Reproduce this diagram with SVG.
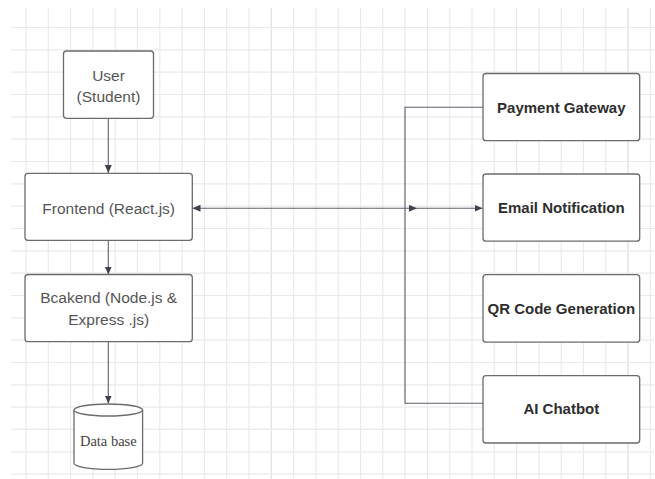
<svg xmlns="http://www.w3.org/2000/svg" width="655" height="479" viewBox="0 0 655 479">
  <style>
    .grid { stroke: #eaeaea; stroke-width: 1.2; fill: none; }
    .gridd { stroke: #e3e3e3; stroke-width: 1.4; fill: none; }
    .box { fill: #ffffff; stroke: #6b6b6b; stroke-width: 1.3; }
    .lt { font-family: "Liberation Sans", Arial, sans-serif; font-size: 15.5px; fill: #555555; text-anchor: middle; }
    .rt { font-family: "Liberation Sans", Arial, sans-serif; font-size: 15px; font-weight: bold; fill: #2e2e2e; text-anchor: middle; }
    .db { font-family: "Liberation Serif", "Times New Roman", serif; font-size: 14.5px; fill: #444444; text-anchor: middle; }
    .conn { stroke: #5e626b; stroke-width: 1.1; fill: none; }
  </style>
  <defs>
    <marker id="arr" markerUnits="userSpaceOnUse" markerWidth="9" markerHeight="8" refX="8" refY="3.5" orient="auto-start-reverse">
      <path d="M0,0 L8,3.5 L0,7 Z" fill="#3d424c"/>
    </marker>
  </defs>
  <rect width="655" height="479" fill="#ffffff"/>
  <g id="grid">
    <path class="grid" d="M26 8V479M48.3 8V479M70.6 8V479M92.9 8V479M115.2 8V479M137.5 8V479M159.8 8V479M182.1 8V479M204.4 8V479M226.7 8V479M249 8V479M293.6 8V479M315.9 8V479M338.2 8V479M360.5 8V479M382.8 8V479M405.1 8V479M427.4 8V479M449.7 8V479M472 8V479M494.3 8V479M516.6 8V479M538.9 8V479M561.2 8V479M583.5 8V479M605.8 8V479M650.4 8V479"/>
    <path class="gridd" d="M271.3 8V479M628.1 8V479"/>
    <path class="grid" d="M11 27.5H655M11 49.8H655M11 72.2H655M11 94.5H655M11 116.8H655M11 139.2H655M11 161.5H655M11 183.8H655M11 206.1H655M11 228.5H655M11 250.8H655M11 273.1H655M11 295.5H655M11 317.8H655M11 340.1H655M11 362.5H655M11 384.8H655M11 407.1H655M11 429.4H655M11 451.8H655M11 474.1H655"/>
  </g>
  <g id="connectors">
    <path class="conn" d="M108.3 118.5V173" marker-end="url(#arr)"/>
    <path class="conn" d="M108.3 240V274.5" marker-end="url(#arr)"/>
    <path class="conn" d="M108.3 341.7V403.5" marker-end="url(#arr)"/>
    <path class="conn" d="M192.5 208.3H417" marker-start="url(#arr)" marker-end="url(#arr)"/>
    <path class="conn" d="M417 208.3H482.5" marker-end="url(#arr)"/>
    <path class="conn" d="M483 107.3H405V403.3H483"/>
  </g>
  <g id="user">
    <rect class="box" x="63.5" y="51" width="90" height="67.3" rx="3"/>
    <text class="lt" x="108.5" y="80.5">User</text>
    <text class="lt" x="108.5" y="102">(Student)</text>
  </g>
  <g id="frontend">
    <rect class="box" x="25" y="173.3" width="167.3" height="67" rx="3"/>
    <text class="lt" x="108.7" y="213.5">Frontend (React.js)</text>
  </g>
  <g id="backend">
    <rect class="box" x="25" y="274.5" width="167.3" height="67.2" rx="3"/>
    <text class="lt" x="108.7" y="303">Bcakend (Node.js &amp;</text>
    <text class="lt" x="108.7" y="325">Express .js)</text>
  </g>
  <g id="database">
    <path class="box" d="M74 410A34.3 6 0 0 1 142.6 410V463.3A34.3 6 0 0 1 74 463.3Z"/>
    <path class="box" fill="none" d="M74 410A34.3 6 0 0 0 142.6 410"/>
    <text class="db" x="108.3" y="446">Data base</text>
  </g>
  <g id="payment">
    <rect class="box" x="483" y="73.5" width="156.7" height="67.2" rx="3"/>
    <text class="rt" x="561.3" y="112.5">Payment Gateway</text>
  </g>
  <g id="email">
    <rect class="box" x="483" y="174" width="156.7" height="67.2" rx="3"/>
    <text class="rt" x="561.3" y="213.3">Email Notification</text>
  </g>
  <g id="qrcode">
    <rect class="box" x="483" y="274.7" width="156.7" height="67.5" rx="3"/>
    <text class="rt" x="561.3" y="314">QR Code Generation</text>
  </g>
  <g id="chatbot">
    <rect class="box" x="483" y="375.7" width="156.7" height="67.3" rx="3"/>
    <text class="rt" x="561.3" y="414">AI Chatbot</text>
  </g>
</svg>
